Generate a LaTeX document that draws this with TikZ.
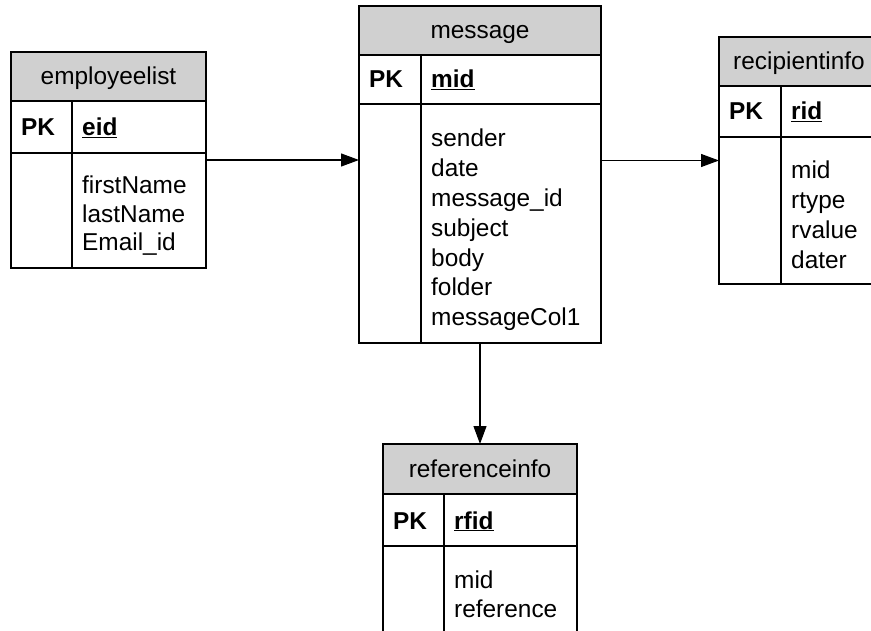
\documentclass[tikz,border=0pt]{standalone}
\usepackage{fontspec}
\setmainfont{Liberation Sans}
\usetikzlibrary{arrows.meta}
\definecolor{hdrgray}{RGB}{208,208,208}
\newcommand{\fieldrows}[5]{%
  \foreach \f [count=\i from 0] in {#5}
    \node[txt] (#1-f\i) at (#2, #3+\i*#4) {\f};}
\begin{document}
\begin{tikzpicture}[x=1pt,y=-1pt,
  tbl/.style={draw, line width=1.8pt, inner sep=0pt, outer sep=0pt, anchor=north west},
  hdr/.style={draw, fill=hdrgray, line width=1.8pt, inner sep=0pt, outer sep=0pt, anchor=north west},
  sep/.style={line width=1.8pt},
  txt/.style={inner sep=0pt, anchor=base west, font=\fontsize{24.4}{29.8}\selectfont},
  title/.style={inner sep=0pt, anchor=base, font=\fontsize{24.4}{29.8}\selectfont},
  arr/.style={line width=1.1pt, -{Triangle[length=18pt,width=13pt]}}
]
\path[use as bounding box, clip] (0,0) rectangle (871,631);
\fill[white] (0,0) rectangle (871,631);

% employeelist
\node[tbl, minimum width=195pt, minimum height=216pt] (emp) at (11,52) {};
\node[hdr, minimum width=195pt, minimum height=49pt] (emp-h) at (11,52) {};
\draw[sep] (11,153) -- (206,153);
\draw[sep] (72,101) -- (72,268);
\node[title] (emp-t) at (108.5,84.5) {employeelist};
\node[txt] (emp-pk) at (21,135.5) {\textbf{PK}};
\node[txt] (emp-k) at (82,135.5) {\underline{\textbf{eid}}};
\fieldrows{emp}{82}{194}{28.2}{firstName,lastName,Email\_id}

% message
\node[tbl, minimum width=242pt, minimum height=337pt] (msg) at (359,6) {};
\node[hdr, minimum width=242pt, minimum height=49pt] (msg-h) at (359,6) {};
\draw[sep] (359,104) -- (601,104);
\draw[sep] (421,55) -- (421,343);
\node[title] (msg-t) at (480,38.5) {message};
\node[txt] (msg-pk) at (369,88) {\textbf{PK}};
\node[txt] (msg-k) at (431,88) {\underline{\textbf{mid}}};
\fieldrows{msg}{431}{147}{29.8}{sender,date,message\_id,subject,body,folder,messageCol1}

% recipientinfo
\node[tbl, minimum width=160pt, minimum height=247pt] (rec) at (719,37) {};
\node[hdr, minimum width=160pt, minimum height=49pt] (rec-h) at (719,37) {};
\draw[sep] (719,137) -- (879,137);
\draw[sep] (781,86) -- (781,284);
\node[title] (rec-t) at (799,69.5) {recipientinfo};
\node[txt] (rec-pk) at (729,120) {\textbf{PK}};
\node[txt] (rec-k) at (791,120) {\underline{\textbf{rid}}};
\fieldrows{rec}{791}{179}{29.8}{mid,rtype,rvalue,dater}

% referenceinfo
\node[tbl, minimum width=194pt, minimum height=240pt] (ref) at (383,444) {};
\node[hdr, minimum width=194pt, minimum height=50pt] (ref-h) at (383,444) {};
\draw[sep] (383,546) -- (577,546);
\draw[sep] (444,494) -- (444,684);
\node[title] (ref-t) at (480,477) {referenceinfo};
\node[txt] (ref-pk) at (393,529) {\textbf{PK}};
\node[txt] (ref-k) at (454,529) {\underline{\textbf{rfid}}};
\fieldrows{ref}{454}{588}{29.8}{mid,reference}

% connectors
\draw[arr] (emp.east) -- (emp.east -| msg.west);
\draw[arr] (rec.west -| msg.east) -- (rec.west);
\draw[arr] (msg.south) -- (ref.north);
\end{tikzpicture}
\end{document}
